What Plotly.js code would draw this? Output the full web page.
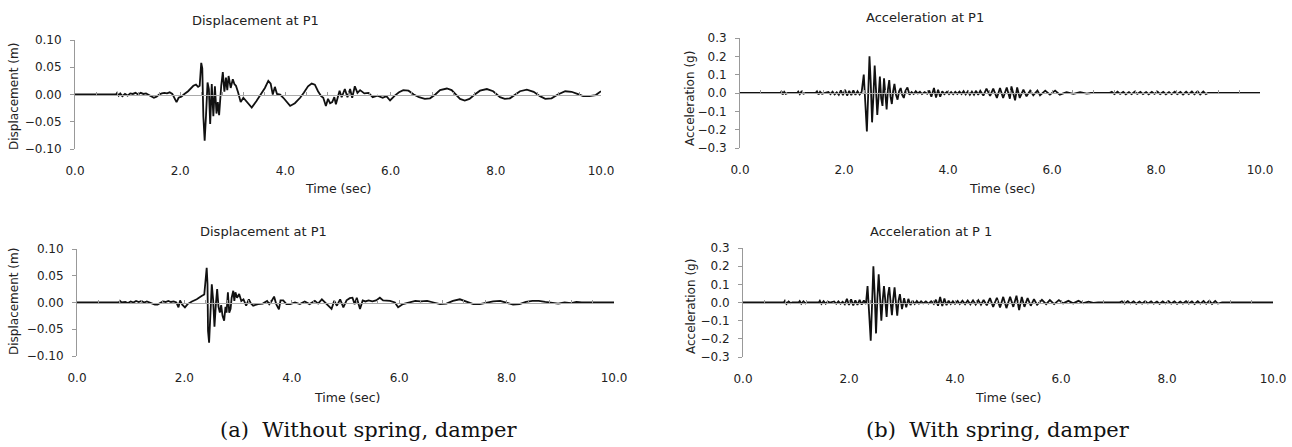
<!DOCTYPE html>
<html>
<head>
<meta charset="utf-8">
<script src="https://cdn.plot.ly/plotly-3.0.1.min.js"></script>
<style>
html,body{margin:0;padding:0;background:#fff;}
#chart{width:1292px;height:447px;}
</style>
</head>
<body>
<div id="chart"></div>
<script>
// ---- DATA (time in sec, value) ----
var xTickLabels = ["0.0", "2.0", "4.0", "6.0", "8.0", "10.0"];
var xTickValues = [0, 2, 4, 6, 8, 10];
var panelTitles = ["Displacement at P1", "Displacement at P1", "Acceleration at P1", "Acceleration at P 1"];
var yTitles = ["Displacement (m)", "Displacement (m)", "Acceleration (g)", "Acceleration (g)"];
var xTitle = "Time (sec)";
var captions = ["(a)  Without spring, damper", "(b)  With spring, damper"];

// (a) top: displacement without spring/damper
var dispWithout = [
[0,0],[0.78,0],[0.80,0.003],[0.83,-0.002],[0.86,0.002],[0.90,-0.003],[0.95,0.001],[1.00,-0.002],[1.05,0.002],[1.10,0.001],
[1.15,0.003],[1.20,0.000],[1.25,0.003],[1.30,0.001],[1.35,0.002],[1.40,-0.001],[1.45,-0.004],[1.50,-0.006],[1.55,-0.004],[1.60,0.000],
[1.65,0.002],[1.70,0.003],[1.75,0.002],[1.80,0.004],[1.85,0.001],[1.90,-0.008],[1.93,-0.014],[1.97,-0.006],[2.02,-0.004],[2.08,0.001],
[2.15,0.006],[2.25,0.016],[2.30,0.018],[2.34,0.014],[2.37,0.016],[2.40,0.058],[2.42,0.048],[2.44,-0.040],[2.465,-0.085],[2.49,-0.040],
[2.52,0.022],[2.545,0.010],[2.57,-0.054],[2.60,0.019],[2.63,-0.040],[2.66,0.015],[2.69,-0.035],[2.715,-0.014],[2.74,-0.038],[2.78,0.016],
[2.81,0.041],[2.84,0.005],[2.87,0.031],[2.895,0.008],[2.92,0.034],[2.96,0.012],[3.00,0.028],[3.03,0.019],[3.06,0.016],[3.10,0.004],
[3.15,-0.014],[3.20,-0.006],[3.25,-0.012],[3.30,-0.018],[3.36,-0.024],[3.45,-0.012],[3.55,0.003],[3.61,0.012],[3.675,0.025],[3.72,0.020],
[3.76,0.000],[3.80,0.014],[3.84,0.001],[3.90,0.000],[3.96,-0.006],[4.02,-0.012],[4.09,-0.021],[4.18,-0.016],[4.28,-0.006],[4.35,0.003],
[4.43,0.015],[4.50,0.020],[4.56,0.018],[4.62,0.006],[4.68,-0.003],[4.72,-0.006],[4.77,-0.021],[4.81,-0.008],[4.85,-0.016],[4.89,-0.014],
[4.93,-0.005],[4.96,-0.018],[5.00,-0.002],[5.03,0.007],[5.07,-0.005],[5.10,0.004],[5.13,0.010],[5.18,-0.005],[5.23,0.010],[5.27,-0.006],
[5.32,0.015],[5.37,0.003],[5.42,0.008],[5.50,0.002],[5.58,0.003],[5.66,-0.005],[5.75,-0.002],[5.85,-0.006],[5.92,-0.003],[5.99,-0.011],
[6.08,-0.002],[6.16,0.004],[6.24,0.008],[6.34,0.007],[6.44,0.000],[6.54,-0.005],[6.65,-0.008],[6.75,-0.007],[6.85,0.000],[6.94,0.008],
[7.07,0.011],[7.16,0.008],[7.25,0.000],[7.32,-0.008],[7.41,-0.011],[7.50,-0.008],[7.60,0.000],[7.70,0.007],[7.83,0.010],[7.95,0.006],
[8.08,-0.005],[8.17,-0.008],[8.27,-0.007],[8.37,0.000],[8.46,0.006],[8.59,0.009],[8.72,0.005],[8.84,-0.003],[8.94,-0.008],[9.06,-0.007],
[9.18,0.000],[9.32,0.006],[9.44,0.005],[9.55,0.001],[9.66,-0.003],[9.78,-0.003],[9.90,-0.001],[10.0,0.006]
];

// (a) bottom: displacement with spring/damper
var dispWith = [
[0,0],[0.78,0],[0.80,0.003],[0.83,0],[0.90,0.001],[0.95,-0.001],[1.00,0.002],[1.05,0],[1.10,0.003],[1.15,0.001],
[1.20,0.003],[1.25,0],[1.30,0.002],[1.35,0],[1.40,-0.002],[1.45,-0.004],[1.50,-0.004],[1.55,-0.001],[1.60,0.002],[1.65,0.001],
[1.70,0.003],[1.75,0.001],[1.80,0.002],[1.85,0],[1.89,-0.009],[1.92,0.004],[1.96,-0.004],[2.01,-0.009],[2.06,-0.003],[2.14,0.002],
[2.23,0.006],[2.32,0.012],[2.37,0.015],[2.39,0.037],[2.415,0.065],[2.43,0.035],[2.44,-0.053],[2.46,-0.075],[2.485,-0.030],[2.51,0.034],
[2.535,0.005],[2.56,-0.045],[2.585,-0.005],[2.61,0.025],[2.635,-0.008],[2.66,-0.019],[2.685,-0.005],[2.71,-0.025],[2.74,-0.034],[2.765,-0.008],
[2.785,-0.019],[2.81,0.019],[2.835,-0.019],[2.86,-0.012],[2.88,0.009],[2.91,0.022],[2.93,0.003],[2.95,0.019],[2.98,0.009],[3.02,0.016],
[3.06,0.003],[3.10,0.006],[3.15,-0.006],[3.20,0.006],[3.24,-0.002],[3.28,-0.006],[3.37,-0.003],[3.46,-0.002],[3.54,0.003],[3.58,-0.003],
[3.62,0.002],[3.67,0.011],[3.71,-0.003],[3.76,-0.013],[3.79,0.004],[3.84,0.004],[3.90,-0.003],[3.97,-0.003],[4.06,0],[4.15,-0.003],
[4.24,0.002],[4.33,-0.003],[4.43,0.003],[4.49,-0.002],[4.56,0.006],[4.62,0],[4.68,-0.006],[4.74,-0.012],[4.79,0.003],[4.84,-0.006],
[4.90,0.006],[4.96,-0.009],[5.02,0.004],[5.08,0.008],[5.13,0.009],[5.17,-0.003],[5.21,0.009],[5.27,-0.012],[5.32,0.004],[5.37,0.002],
[5.43,0.004],[5.50,0.002],[5.57,0.004],[5.64,0.009],[5.70,0.004],[5.76,0.003],[5.83,0.003],[5.92,0],[5.98,-0.009],[6.07,-0.003],
[6.20,0],[6.30,0.003],[6.40,0.002],[6.52,0.003],[6.64,0],[6.76,-0.003],[6.88,-0.002],[7.00,0.003],[7.13,0.006],[7.25,0.002],
[7.38,-0.003],[7.50,-0.003],[7.62,0],[7.75,0.002],[7.88,0.003],[8.00,0],[8.12,-0.004],[8.24,-0.003],[8.36,0.001],[8.48,0.003],
[8.60,0.003],[8.72,0.001],[8.84,0],[8.96,-0.002],[9.08,0],[9.20,-0.001],[9.30,0.001],[9.40,0],[10.0,0]
];

// (b) top: acceleration without spring/damper
var accWithout = [
[0,0],[0.78,0],[0.80,0.010],[0.82,-0.008],[0.85,0.006],[0.88,-0.005],[0.92,0],[1.10,0],[1.12,0.008],[1.15,-0.006],
[1.18,0.007],[1.22,-0.004],[1.26,0],[1.45,0],[1.48,0.009],[1.51,-0.008],[1.54,0.007],[1.58,-0.005],[1.62,0],[1.70,0.006],
[1.74,-0.006],[1.78,0.007],[1.82,-0.008],[1.86,0.004],[1.90,-0.010],[1.94,0.015],[1.98,-0.012],[2.02,0.018],[2.06,-0.014],[2.10,0.012],
[2.14,-0.012],[2.18,0.014],[2.22,-0.010],[2.26,0.010],[2.30,-0.008],[2.34,0.006],[2.38,0.100],[2.41,-0.100],[2.44,-0.210],[2.465,-0.010],
[2.49,0.200],[2.515,0.050],[2.54,-0.160],[2.565,-0.020],[2.59,0.150],[2.615,0.020],[2.64,-0.120],[2.665,-0.020],[2.69,0.090],[2.715,-0.030],
[2.74,-0.070],[2.77,0.080],[2.795,-0.010],[2.82,-0.090],[2.845,0.020],[2.87,0.070],[2.895,-0.020],[2.92,-0.060],[2.945,0.010],[2.97,0.050],
[3.00,-0.010],[3.03,-0.036],[3.06,0.010],[3.09,0.027],[3.12,-0.010],[3.15,-0.027],[3.18,0.010],[3.22,0.030],[3.26,-0.010],[3.30,0.005],
[3.34,-0.005],[3.38,0.010],[3.42,-0.003],[3.46,0.007],[3.50,-0.006],[3.55,0.005],[3.60,-0.004],[3.64,0.013],[3.68,-0.020],[3.73,0.027],
[3.77,-0.025],[3.81,0.018],[3.85,-0.020],[3.89,0.009],[3.93,-0.006],[3.98,0.007],[4.02,-0.006],[4.06,0.005],[4.10,-0.007],[4.14,0.006],
[4.18,-0.005],[4.22,0.008],[4.26,-0.006],[4.30,0.010],[4.34,-0.008],[4.38,0.009],[4.42,-0.010],[4.46,0.008],[4.50,-0.009],[4.54,0.012],
[4.58,-0.010],[4.62,0.012],[4.68,-0.014],[4.74,0.024],[4.81,-0.016],[4.87,0.024],[4.94,-0.027],[5.00,0.027],[5.06,-0.027],[5.13,0.030],
[5.19,-0.031],[5.22,0.036],[5.29,-0.040],[5.33,0.030],[5.38,-0.027],[5.45,0.018],[5.51,-0.018],[5.58,0.013],[5.64,-0.013],[5.72,0.013],
[5.77,-0.013],[5.87,0.013],[5.96,-0.009],[6.06,0.013],[6.15,-0.009],[6.28,0.005],[6.41,-0.005],[6.54,0.004],[6.67,-0.003],[6.75,0],
[7.10,0],[7.15,0.006],[7.20,-0.006],[7.26,0.007],[7.31,-0.005],[7.37,0.006],[7.42,-0.007],[7.48,0.005],[7.53,-0.006],[7.59,0.007],
[7.64,-0.005],[7.70,0.006],[7.75,-0.006],[7.81,0.005],[7.86,-0.007],[7.92,0.006],[7.97,-0.005],[8.03,0.007],[8.08,-0.006],[8.14,0.006],
[8.19,-0.007],[8.25,0.005],[8.30,-0.006],[8.36,0.007],[8.41,-0.006],[8.47,0.006],[8.52,-0.008],[8.58,0.007],[8.63,-0.006],[8.69,0.008],
[8.74,-0.007],[8.80,0.009],[8.85,-0.008],[8.91,0.008],[8.96,-0.006],[9.00,0],[10.0,0]
];

// (b) bottom: acceleration with spring/damper
var accWith = [
[0,0],[0.77,0],[0.79,0.009],[0.82,-0.008],[0.86,0.006],[0.90,-0.004],[0.93,0],[1.05,0],[1.07,0.008],[1.10,-0.007],
[1.14,0.007],[1.18,-0.005],[1.21,0],[1.43,0],[1.45,0.009],[1.48,-0.008],[1.52,0.007],[1.56,-0.006],[1.60,0.005],[1.64,0],
[1.72,0.006],[1.76,-0.007],[1.80,0.006],[1.84,-0.007],[1.88,0.004],[1.92,-0.010],[1.96,0.020],[2.00,-0.014],[2.04,0.018],[2.08,-0.016],
[2.12,0.012],[2.16,-0.013],[2.20,0.014],[2.24,-0.011],[2.28,0.011],[2.32,-0.008],[2.35,0.090],[2.38,-0.080],[2.41,-0.210],[2.435,-0.010],
[2.46,0.200],[2.485,0.040],[2.51,-0.170],[2.535,0.020],[2.56,0.155],[2.585,0.030],[2.61,-0.100],[2.635,0.010],[2.66,0.090],[2.685,0.010],
[2.71,-0.080],[2.735,0.040],[2.76,0.085],[2.785,0.000],[2.81,-0.070],[2.835,0.020],[2.86,0.083],[2.885,0.000],[2.91,-0.073],[2.935,0.010],
[2.96,0.046],[3.00,-0.036],[3.04,0.024],[3.08,-0.027],[3.12,0.020],[3.16,-0.014],[3.20,0.010],[3.24,-0.008],[3.28,0.008],[3.32,-0.006],
[3.36,0.007],[3.40,-0.005],[3.45,0.006],[3.50,-0.006],[3.55,0.007],[3.60,-0.008],[3.64,0.015],[3.68,-0.018],[3.72,0.030],[3.76,-0.020],
[3.80,0.022],[3.84,-0.015],[3.88,0.010],[3.92,-0.008],[3.96,0.007],[4.00,-0.008],[4.05,0.009],[4.09,-0.008],[4.14,0.010],[4.19,-0.009],
[4.24,0.011],[4.29,-0.010],[4.34,0.012],[4.39,-0.011],[4.44,0.012],[4.49,-0.012],[4.54,0.014],[4.60,-0.016],[4.66,0.024],[4.72,-0.024],
[4.79,0.026],[4.85,-0.027],[4.91,0.031],[4.97,-0.031],[5.04,0.031],[5.10,-0.024],[5.16,0.037],[5.21,-0.042],[5.26,0.031],[5.31,-0.024],
[5.37,0.024],[5.43,-0.018],[5.49,0.018],[5.55,-0.013],[5.64,0.015],[5.72,-0.009],[5.79,0.013],[5.87,-0.009],[5.96,0.013],[6.04,-0.005],
[6.14,0.009],[6.23,-0.005],[6.33,0.009],[6.42,-0.004],[6.52,0.005],[6.61,-0.002],[6.70,0],[7.10,0],[7.15,0.006],[7.20,-0.006],
[7.26,0.007],[7.31,-0.005],[7.37,0.006],[7.42,-0.007],[7.48,0.005],[7.53,-0.006],[7.59,0.007],[7.64,-0.005],[7.70,0.006],[7.75,-0.006],
[7.81,0.005],[7.86,-0.007],[7.92,0.006],[7.97,-0.005],[8.03,0.007],[8.08,-0.006],[8.14,0.006],[8.19,-0.007],[8.25,0.005],[8.30,-0.006],
[8.36,0.007],[8.41,-0.006],[8.47,0.006],[8.52,-0.008],[8.58,0.007],[8.63,-0.006],[8.69,0.008],[8.74,-0.007],[8.80,0.009],[8.85,-0.008],
[8.91,0.008],[8.96,-0.006],[9.04,0],[10.0,0]
];

// ---- LAYOUT (pixel geometry of the figure, 1292 x 447) ----
var W = 1292, H = 447;
var FONT = "DejaVu Sans, Arial, sans-serif";
var TXT = "#222";
// plot boxes in pixels: [left, right, top, bottom]
var boxes = [
  [75, 601, 40, 149],
  [77, 614, 249, 356],
  [740, 1260, 38, 148],
  [743, 1273, 248, 357]
];
var series = [dispWithout, dispWith, accWithout, accWith];
var yCfg = [
  {range: [-0.1, 0.1], dtick: 0.05, fmt: ".2f"},
  {range: [-0.1, 0.1], dtick: 0.05, fmt: ".2f"},
  {range: [-0.3, 0.3], dtick: 0.1, fmt: ".1f"},
  {range: [-0.3, 0.3], dtick: 0.1, fmt: ".1f"}
];
var titlePos = [[255, 20], [263, 232], [925, 18], [931, 231]];
var yTitlePos = [[14, 97], [14, 302], [690, 98], [691, 307]];
var xTitlePos = [[338, 189], [347, 397], [1002, 188], [1008, 397]];
var captionPos = [[368, 430], [998, 430]];

var traces = [];
var layout = {
  width: W, height: H,
  margin: {l: 0, r: 0, t: 0, b: 0},
  paper_bgcolor: "#fff", plot_bgcolor: "rgba(0,0,0,0)",
  showlegend: false,
  font: {family: FONT, size: 12, color: TXT},
  annotations: []
};

function px2fx(p) { return p / W; }
function py2fy(p) { return 1 - p / H; }

for (var i = 0; i < 4; i++) {
  var n = i + 1;
  var xa = "x" + (n === 1 ? "" : n), ya = "y" + (n === 1 ? "" : n);
  var xk = "xaxis" + (n === 1 ? "" : n), yk = "yaxis" + (n === 1 ? "" : n);
  var b = boxes[i];
  var xd = [px2fx(b[0]), px2fx(b[1])];
  var yd = [py2fy(b[3]), py2fy(b[2])];
  traces.push({
    type: "scatter", mode: "lines",
    x: series[i].map(function (p) { return p[0]; }),
    y: series[i].map(function (p) { return p[1]; }),
    xaxis: xa, yaxis: ya,
    line: {color: "#111", width: 1.8, shape: "linear"},
    hoverinfo: "skip"
  });
  layout[xk] = {
    domain: xd, anchor: ya, range: [0, 10],
    tickmode: "array", tickvals: xTickValues, ticktext: xTickLabels,
    showline: false, showgrid: false, zeroline: false,
    ticks: "outside", ticklen: 11, tickcolor: "rgba(0,0,0,0)",
    tickfont: {family: FONT, size: 12, color: TXT}
  };
  layout[yk] = {
    domain: yd, anchor: xa, range: yCfg[i].range,
    dtick: yCfg[i].dtick, tick0: 0, tickformat: yCfg[i].fmt,
    showline: true, linecolor: "#999", linewidth: 1,
    ticks: "outside", ticklen: 4, tickcolor: "#999",
    showgrid: false, zeroline: false,
    ticklabelstandoff: 6,
    tickfont: {family: FONT, size: 12, color: TXT}
  };
  // the horizontal time axis line crossing at zero, with small ticks
  var ok = "xaxis" + (n + 4);
  layout[ok] = {
    overlaying: xa, anchor: "free", position: (yd[0] + yd[1]) / 2,
    range: [0, 10], side: "bottom",
    showline: true, linecolor: "#aaa", linewidth: 1,
    ticks: "inside", ticklen: 3, tickcolor: "#999", dtick: 0.4, tick0: 0,
    showticklabels: false, showgrid: false, zeroline: false
  };
  traces.push({
    type: "scatter", mode: "lines", x: [0, 10], y: [0, 0],
    xaxis: "x" + (n + 4), yaxis: ya,
    line: {color: "rgba(0,0,0,0)", width: 0}, hoverinfo: "skip"
  });

  layout.annotations.push({
    xref: "paper", yref: "paper", x: px2fx(titlePos[i][0]), y: py2fy(titlePos[i][1]),
    text: panelTitles[i], showarrow: false, xanchor: "center", yanchor: "middle",
    font: {family: FONT, size: 13, color: TXT}
  });
  layout.annotations.push({
    xref: "paper", yref: "paper", x: px2fx(yTitlePos[i][0]), y: py2fy(yTitlePos[i][1]),
    text: yTitles[i], showarrow: false, textangle: -90, xanchor: "center", yanchor: "middle",
    font: {family: FONT, size: 12, color: TXT}
  });
  layout.annotations.push({
    xref: "paper", yref: "paper", x: px2fx(xTitlePos[i][0]), y: py2fy(xTitlePos[i][1]),
    text: xTitle, showarrow: false, xanchor: "center", yanchor: "middle",
    font: {family: FONT, size: 12.5, color: TXT}
  });
}
for (var c = 0; c < 2; c++) {
  layout.annotations.push({
    xref: "paper", yref: "paper", x: px2fx(captionPos[c][0]), y: py2fy(captionPos[c][1]),
    text: captions[c], showarrow: false, xanchor: "center", yanchor: "middle",
    font: {family: "DejaVu Serif, Liberation Serif, serif", size: 21, color: "#111"}
  });
}

Plotly.newPlot("chart", traces, layout, {staticPlot: true, displayModeBar: false});
</script>
</body>
</html>
